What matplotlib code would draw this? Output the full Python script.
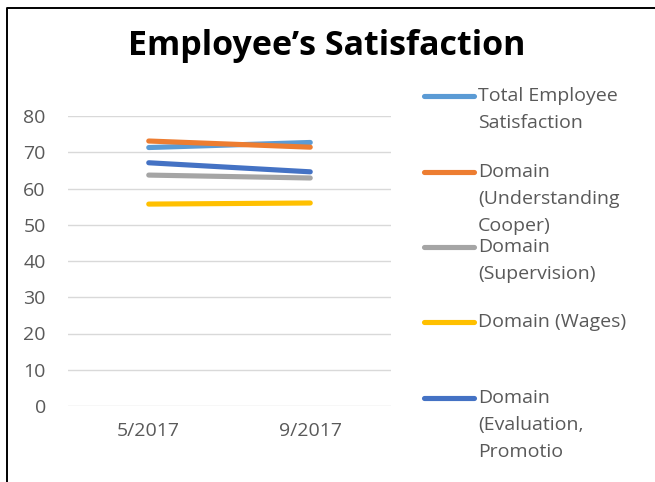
import matplotlib
matplotlib.use("Agg")
import matplotlib.pyplot as plt
from matplotlib.lines import Line2D

# ---- data ----
categories = ["5/2017", "9/2017"]
series_names = [
    "Total Employee\nSatisfaction",
    "Domain\n(Understanding\nCooper)",
    "Domain\n(Supervision)",
    "Domain (Wages)",
    "Domain\n(Evaluation,\nPromotio",
]
total_satisfaction = [71.3, 72.7]
understanding_cooper = [73.1, 71.4]
supervision = [63.7, 62.9]
wages = [55.7, 56.0]
evaluation_promotion = [67.1, 64.6]
series_values = [total_satisfaction, understanding_cooper, supervision, wages, evaluation_promotion]
series_colors = ["#5B9BD5", "#ED7D31", "#A5A5A5", "#FFC000", "#4472C4"]
y_ticks = [0, 10, 20, 30, 40, 50, 60, 70, 80]
title = "Employee\u2019s Satisfaction"

W, H = 655, 482
plt.rcParams["font.family"] = ["Open Sans", "DejaVu Sans"]
fig = plt.figure(figsize=(W / 100, H / 100), dpi=100)

def fx(px):
    return px / W

def fy(py):
    return 1 - py / H

# plot area
ax_left, ax_right, ax_top, ax_bottom = 68, 391, 116, 406
ax = fig.add_axes([fx(ax_left), fy(ax_bottom), (ax_right - ax_left) / W, (ax_bottom - ax_top) / H])
xs = list(range(len(categories)))
for vals, col in zip(series_values, series_colors):
    ax.plot(xs, vals, color=col, lw=3.7, solid_capstyle="round", zorder=3)

ax.set_xlim(-0.5, len(categories) - 0.5)
ax.set_ylim(0, 80)
ax.set_yticks(y_ticks)
ax.set_xticks(xs)
ax.set_xticklabels(categories)
ax.grid(axis="y", color="#D9D9D9", lw=1.0, zorder=0)
for s in ax.spines.values():
    s.set_visible(False)
ax.tick_params(axis="both", length=0, labelsize=14, labelcolor="#595959")
ax.tick_params(axis="y", pad=16)
ax.tick_params(axis="x", pad=11.5)
ax.set_facecolor("none")

# title
fig.text(fx(327), fy(46), title, ha="center", va="center", fontsize=24.5,
         fontweight="bold", color="black")

# legend (manual, to align handles with the first line of each label)
handle_y = [96, 172, 247, 322, 398]
line_step = 26.8
for name, col, hy in zip(series_names, series_colors, handle_y):
    fig.add_artist(Line2D([fx(424), fx(474)], [fy(hy), fy(hy)], transform=fig.transFigure,
                          color=col, lw=3.7, solid_capstyle="round"))
    for i, line in enumerate(name.split("\n")):
        fig.text(fx(478), fy(hy + i * line_step), line, ha="left", va="center",
                 fontsize=14, color="#595959")

# outer frame (left and top edges visible)
fig.add_artist(Line2D([fx(6.5), fx(6.5), fx(W + 5)], [fy(H + 5), fy(7.5), fy(7.5)],
                      transform=fig.transFigure, color="black", lw=1.4))

fig.savefig("out.png", dpi=100)
